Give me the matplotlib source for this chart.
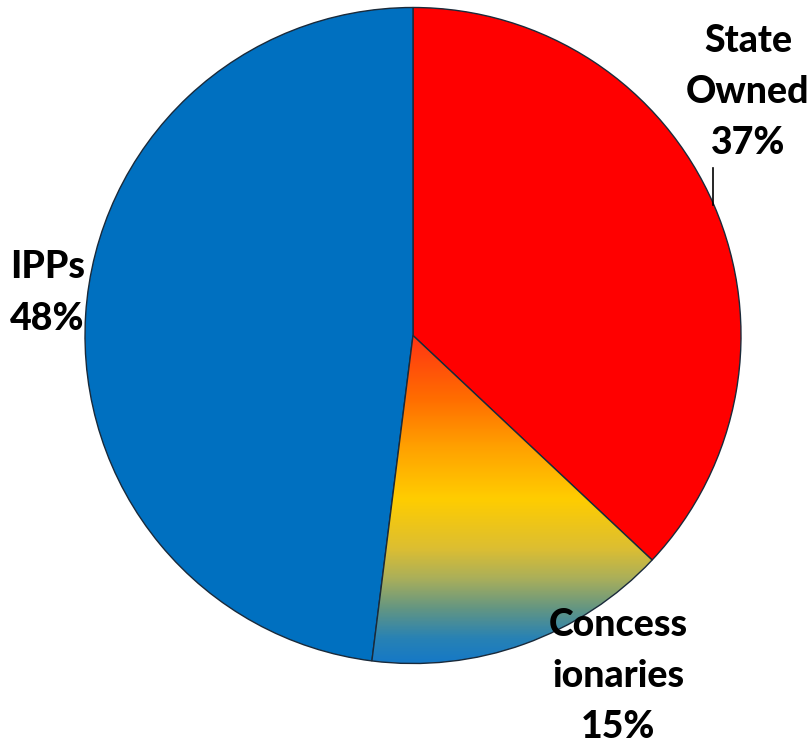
import matplotlib
matplotlib.use("Agg")
import matplotlib.pyplot as plt
import numpy as np
from matplotlib.colors import LinearSegmentedColormap

labels = ["State\nOwned", "Concess\nionaries", "IPPs"]
shares = [37, 15, 48]
colors = ["#FF0000", "#FF4000", "#0070C0"]

W, H = 809, 743
fig = plt.figure(figsize=(W / 100, H / 100), dpi=100)
ax = fig.add_axes([0, 0, 1, 1])

cx, cy, r = 413, H - 335.5, 328
wedges, _ = ax.pie(shares, colors=colors, startangle=90, counterclock=False,
                   center=(cx, cy), radius=r, frame=True,
                   wedgeprops=dict(edgecolor="#1a2a3a", linewidth=1.0))
ax.set_xlim(0, W)
ax.set_ylim(0, H)
ax.set_aspect("equal")
ax.axis("off")

# gradient fill for the Concessionaries slice
grad = LinearSegmentedColormap.from_list("conc", [
    (0.0, "#FF3214"), (0.2, "#FF6E00"), (0.34, "#FFA000"), (0.5, "#FFCD00"),
    (0.65, "#DCBE32"), (0.74, "#AAAF5A"), (0.83, "#649682"),
    (0.92, "#2882B4"), (1.0, "#1478C8")])
w = wedges[1]
w.set_facecolor("none")
w.set_zorder(5)
g = np.linspace(0, 1, 256).reshape(-1, 1)
img = ax.imshow(g, cmap=grad, aspect="auto",
                extent=(cx - 60, cx + 260, cy - r - 2, cy + 2),
                origin="upper", zorder=4)
img.set_clip_path(w)
ax.set_xlim(0, W)
ax.set_ylim(0, H)

fs = 27
font = dict(fontsize=fs, fontweight="black", family="Lato", color="black",
            linespacing=1.62, zorder=10)
ax.text(748, H - 92, labels[0] + "\n%d%%" % shares[0], ha="center", va="center", **font)
ax.text(618, H - 676, labels[1] + "\n%d%%" % shares[1], ha="center", va="center", **font)
ax.text(10, H - 293, labels[2] + "\n%d%%" % shares[2], ha="left", va="center", **font)
ax.plot([713, 713], [H - 168, H - 205], color="black", lw=1.2)

fig.savefig("out.png", dpi=100)
